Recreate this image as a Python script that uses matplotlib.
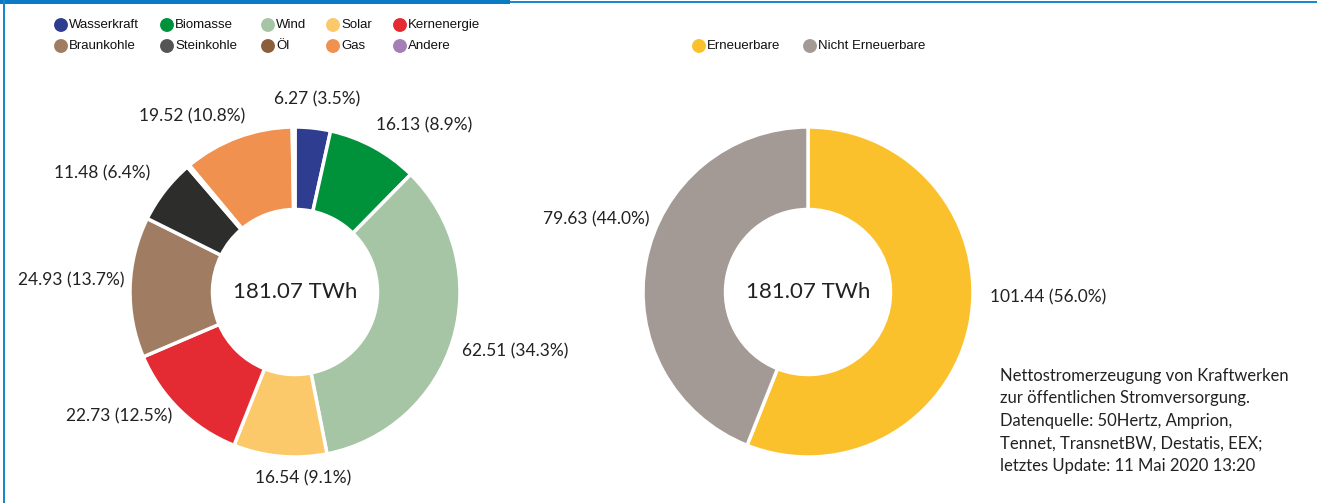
"""
Nettostromerzeugung 2020 - Anteile als Donut-Diagramme
"""

import matplotlib
matplotlib.use('Agg')

import numpy as np
import matplotlib.pyplot as plt
from matplotlib.patches import Rectangle

# Daten (TWh) und Anteile (%)
quellen = ['Wasserkraft', 'Biomasse', 'Wind', 'Solar', 'Kernenergie',
           'Braunkohle', 'Steinkohle', 'Öl', 'Gas', 'Andere']
werte = [6.27, 16.13, 62.51, 16.54, 22.73, 24.93, 11.48, 0.48, 19.52, 0.49]
anteile = [3.5, 8.9, 34.3, 9.1, 12.5, 13.7, 6.4, 0.3, 10.8, 0.3]
farben = ['#2e3d8f', '#00923a', '#a6c5a5', '#fbc96a', '#e42a32',
          '#a07d62', '#2d2d2b', '#8b5e3c', '#f0914f', '#a57fb5']
legende_farben = ['#2e3d8f', '#00923a', '#a6c5a5', '#fbc96a', '#e42a32',
                  '#a07d62', '#555555', '#8b5e3c', '#f0914f', '#a57fb5']

gruppen = ['Erneuerbare', 'Nicht Erneuerbare']
gruppen_werte = [101.44, 79.63]
gruppen_anteile = [56.0, 44.0]
gruppen_farben = ['#fbc12d', '#a39a95']

gesamt = 181.07
fusszeile = ('Nettostromerzeugung von Kraftwerken\n'
             'zur öffentlichen Stromversorgung.\n'
             'Datenquelle: 50Hertz, Amprion,\n'
             'Tennet, TransnetBW, Destatis, EEX;\n'
             'letztes Update: 11 Mai 2020 13:20')

W, H = 1317, 503
LABEL_FONT = ['Lato', 'DejaVu Sans']
LEG_FONT = ['Liberation Sans', 'DejaVu Sans']

# kleine Verschiebungen der Beschriftungen (px)
shift_links = [(2, 9), (-7, 4), (-10, -6), (25, -2), (6, 8),
               (14, 6), (1, 5), (0, 0), (15, 2), (0, 0)]
shift_rechts = [(0, 29), (23, 38)]


def donut(ax, values, pcts, colors, cx, cy, r, shifts):
    ax.pie(values, colors=colors, center=(cx, cy), radius=r,
           startangle=90, counterclock=False,
           wedgeprops=dict(width=r * 0.5, edgecolor='white', linewidth=2.5))
    ax.text(cx, cy, '%.2f TWh' % gesamt, ha='center', va='center',
            fontsize=16, color='#222222', family=LABEL_FONT)

    # Beschriftungen aussen
    tot = sum(values)
    cum = 0.0
    for v, p, (dx, dy) in zip(values, pcts, shifts):
        mid = (cum + v / 2) / tot * 2 * np.pi
        cum += v
        if v < 1:
            continue
        d = r * 1.12
        x = cx + d * np.sin(mid) + dx
        y = cy + d * np.cos(mid) + dy
        s = np.sin(mid)
        ha = 'center' if abs(s) < 0.2 else ('left' if s > 0 else 'right')
        ax.text(x, y, '%.2f (%.1f%%)' % (v, p),
                ha=ha, va='center', fontsize=12.5, color='#222222',
                family=LABEL_FONT)


def main():
    fig = plt.figure(figsize=(W / 100, H / 100), dpi=100)
    ax = fig.add_axes([0, 0, 1, 1])

    donut(ax, werte, anteile, farben, 295, H - 292, 165, shift_links)
    donut(ax, gruppen_werte, gruppen_anteile, gruppen_farben,
          808, H - 292, 165, shift_rechts)

    # Legende links, 2 Reihen a 5
    spalten_x = [61, 167, 268, 333, 400]
    for i, (name, col) in enumerate(zip(quellen, legende_farben)):
        x = spalten_x[i % 5]
        y = H - (25 if i < 5 else 46)
        ax.scatter([x], [y], s=100, color=col, edgecolor='none', clip_on=False)
        ax.text(x + 8, y, name, ha='left', va='center', fontsize=9.5,
                color='#111111', family=LEG_FONT)

    # Legende rechts
    for x, name, col in zip([699, 810], gruppen, gruppen_farben):
        ax.scatter([x], [H - 46], s=100, color=col, edgecolor='none')
        ax.text(x + 8, H - 46, name, ha='left', va='center', fontsize=9.5,
                color='#111111', family=LEG_FONT)

    ax.text(1000, H - 368, fusszeile, ha='left', va='top', fontsize=12,
            color='#222222', family=LABEL_FONT, linespacing=1.5)

    # Rahmen
    ax.add_patch(Rectangle((0, H - 4), 510, 4, color='#0b7ac4', lw=0,
                           clip_on=False))
    ax.add_patch(Rectangle((510, H - 3), W - 510, 2, color='#1a8ad0', lw=0,
                           clip_on=False))
    ax.add_patch(Rectangle((3, 0), 2, H, color='#1a86c8', lw=0,
                           clip_on=False))

    ax.set_xlim(0, W)
    ax.set_ylim(0, H)
    ax.set_aspect('auto')
    ax.axis('off')

    fig.savefig('out.png', dpi=100, facecolor='white')


if __name__ == "__main__":
    main()
